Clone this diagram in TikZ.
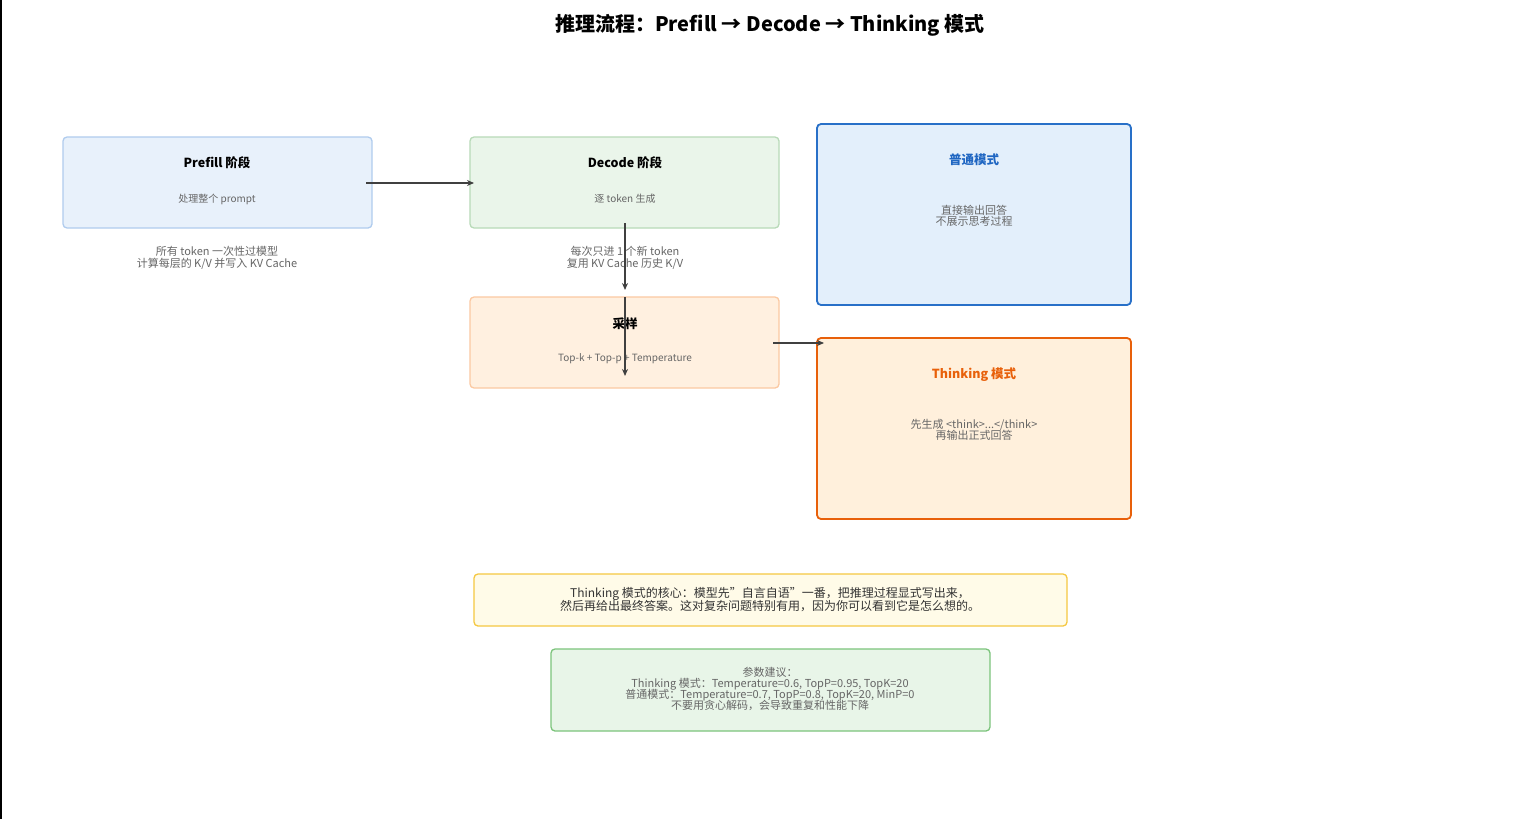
\documentclass[tikz,border=0pt]{standalone}
\usepackage{fontspec}
\setmainfont{Noto Sans CJK SC}
\usetikzlibrary{arrows.meta}
\definecolor{txtg}{HTML}{666666}
\definecolor{pf}{HTML}{E8F1FB}\definecolor{pd}{HTML}{B0CCEE}
\definecolor{df}{HTML}{EAF5EA}\definecolor{dd}{HTML}{B8DAB8}
\definecolor{sf}{HTML}{FFF0E0}\definecolor{sd}{HTML}{FBC9A2}
\definecolor{nf}{HTML}{E3EFFB}\definecolor{nd}{HTML}{2870C8}\definecolor{nt}{HTML}{1F66C2}
\definecolor{tf}{HTML}{FFF0DC}\definecolor{td}{HTML}{E8600A}
\definecolor{yf}{HTML}{FFFBE8}\definecolor{yd}{HTML}{F5C842}
\definecolor{gf}{HTML}{E8F5E8}\definecolor{gd}{HTML}{7CC47C}
\tikzset{
 box/.style={rounded corners=4pt, line width=1.3pt},
 ttl/.style={font=\fontsize{12.5}{15}\selectfont\bfseries, text=black},
 sub/.style={font=\fontsize{10}{13}\selectfont, text=txtg, align=center},
 captx/.style={font=\fontsize{11}{14}\selectfont, text=txtg, align=center},
 arr/.style={-{Stealth[length=7pt,width=6pt]}, line width=1.6pt, draw=black!75},
}
\begin{document}
\begin{tikzpicture}[x=1pt,y=-1pt]
\useasboundingbox (0,0) rectangle (1536,819);
\fill[white] (0,0) rectangle (1536,819);
\draw[line width=1.5pt] (1,0) -- (1,819);
\node[font=\fontsize{20}{24}\selectfont\bfseries] (title) at (770,25) {推理流程：Prefill → Decode → Thinking 模式};
% boxes
\draw[box, fill=pf, draw=pd] (63,137) rectangle (372,228);
\draw[box, fill=df, draw=dd] (470,137) rectangle (779,228);
\draw[box, fill=sf, draw=sd] (470,297) rectangle (779,388);
\draw[box, line width=1.8pt, fill=nf, draw=nd] (817,124) rectangle (1131,305);
\draw[box, line width=1.8pt, fill=tf, draw=td] (817,338) rectangle (1131,519);
\draw[box, fill=yf, draw=yd] (474,574) rectangle (1067,626);
\draw[box, fill=gf, draw=gd] (551,649) rectangle (990,731);
% texts
\node[ttl] (pt) at (217,163) {Prefill 阶段};
\node[sub] (ps) at (217,199) {处理整个 prompt};
\node[captx] (pc) at (217,258) {所有 token 一次性过模型\\[-2pt]计算每层的 K/V 并写入 KV Cache};
\node[ttl] (dt) at (625,163) {Decode 阶段};
\node[sub] (ds) at (625,199) {逐 token 生成};
\node[captx] (dc) at (625,258) {每次只进 1 个新 token\\[-2pt]复用 KV Cache 历史 K/V};
\node[ttl] (st) at (625,324) {采样};
\node[sub] (ss) at (625,359) {Top-k + Top-p + Temperature};
\node[ttl, text=nt] (ntt) at (974,160) {普通模式};
\node[captx] (ns) at (974,216) {直接输出回答\\[-3pt]不展示思考过程};
\node[ttl, text=td] (tt) at (974,375) {Thinking 模式};
\node[captx] (ts) at (974,430) {先生成 <think>...</think>\\[-3pt]再输出正式回答};
\node[font=\fontsize{12}{15}\selectfont, text=black!80, align=center] (note) at (770,600) {\textit{Thinking} 模式的核心：模型先"自言自语"一番，把推理过程显式写出来，\\[-2pt]然后再给出最终答案。这对复杂问题特别有用，因为你可以看到它是怎么想的。};
\node[font=\fontsize{11}{14}\selectfont, text=txtg, align=center] (par) at (770,689) {参数建议：\\[-3pt]Thinking 模式：Temperature=0.6, TopP=0.95, TopK=20\\[-3pt]普通模式：Temperature=0.7, TopP=0.8, TopK=20, MinP=0\\[-3pt]不要用贪心解码，会导致重复和性能下降};
% arrows
\coordinate (a1) at (366,183); \coordinate (a2) at (474,183);
\coordinate (b1) at (625,223); \coordinate (b2) at (625,290);
\coordinate (c1) at (625,297); \coordinate (c2) at (625,376);
\coordinate (d1) at (773,343); \coordinate (d2) at (824,343);
\draw[arr] (a1) -- (a2);
\draw[arr] (b1) -- (b2);
\draw[arr] (c1) -- (c2);
\draw[arr] (d1) -- (d2);
\end{tikzpicture}
\end{document}
